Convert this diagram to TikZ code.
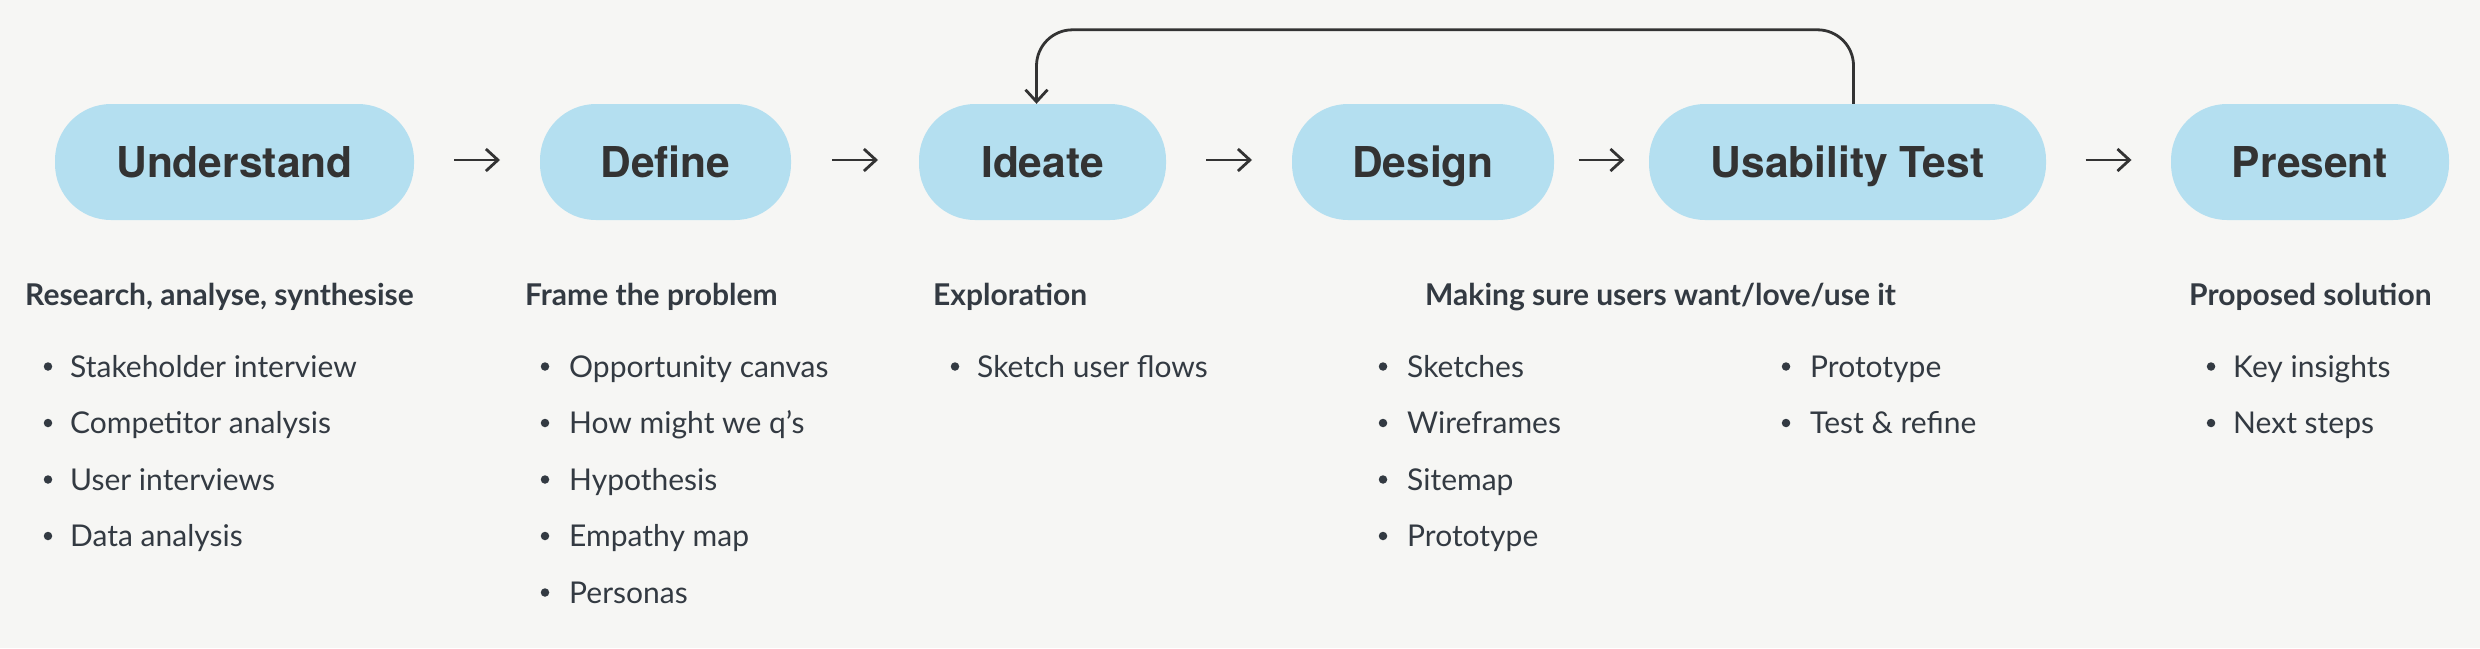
\documentclass[tikz,border=0pt]{standalone}
\usepackage{fontspec}
\setmainfont{Lato}
\newfontfamily\pillfont{TeX Gyre Heros}
\usetikzlibrary{arrows.meta,calc}
\definecolor{bg}{HTML}{F6F6F4}
\definecolor{pillfill}{HTML}{B4DFF0}
\definecolor{pilltext}{HTML}{333333}
\definecolor{bodytext}{HTML}{333A42}
\definecolor{arrowcol}{HTML}{333333}
\tikzset{
  pill/.style={rectangle, rounded corners=56pt, fill=pillfill, text=pilltext,
    minimum height=116pt, inner sep=0pt, text height=31pt, text depth=0pt,
    font=\fontsize{42.5}{50}\pillfont\bfseries},
  flow/.style={draw=arrowcol, line width=2.8pt,
    -{Straight Barb[length=12pt,width=22pt,line width=2.8pt]}},
  heading/.style={anchor=base west, inner sep=0pt, text=bodytext,
    font=\fontsize{30}{34}\selectfont\bfseries},
  item/.style={anchor=base west, inner sep=0pt, text=bodytext,
    font=\fontsize{30}{34}\selectfont},
  dot/.style={circle, fill=bodytext, minimum size=8.5pt, inner sep=0pt}
}
\begin{document}
\begin{tikzpicture}[x=1pt,y=-1pt]
\fill[bg] (0,0) rectangle (2480,648);
\useasboundingbox (0,0) rectangle (2480,648);

% pills
\node[pill, minimum width=359pt] (u)  at (234.5,162) {Understand};
\node[pill, minimum width=251pt] (d)  at (665.5,162) {Define};
\node[pill, minimum width=247pt] (i)  at (1042.5,162) {Ideate};
\node[pill, minimum width=262pt] (de) at (1423,162) {Design};
\node[pill, minimum width=397pt] (ut) at (1847.5,162) {Usability Test};
\node[pill, minimum width=278pt] (p)  at (2310,162) {Present};

% forward arrows
\foreach \a/\b in {u/d, d/i, i/de, de/ut, ut/p}{
  \draw[flow] ($(\a.east)!.5!(\b.west)+(-23,-2)$) -- ($(\a.east)!.5!(\b.west)+(23,-2)$);
}

% feedback loop
\draw[flow, rounded corners=36pt] ([xshift=6pt]ut.north) -- ++(0,-74) -| ([xshift=-6pt]i.north);

% Understand column
\node[heading] (h1) at (25,305) {Research, analyse, synthesise};
\foreach \t [count=\k] in {Stakeholder interview, Competitor analysis, User interviews, Data analysis}{
  \node[dot] (b1\k) at (48,{377+56.5*(\k-1)-10.5}) {};
  \node[item] (t1\k) at (70,{377+56.5*(\k-1)}) {\t};
}

% Define column
\node[heading] (h2) at (525,305) {Frame the problem};
\foreach \t [count=\k] in {Opportunity canvas, How might we q’s, Hypothesis, Empathy map, Personas}{
  \node[dot] (b2\k) at (545,{377+56.5*(\k-1)-10.5}) {};
  \node[item] (t2\k) at (569,{377+56.5*(\k-1)}) {\t};
}

% Ideate column
\node[heading] (h3) at (933,305) {Exploration};
\node[dot] (b31) at (955,366.5) {};
\node[item] (t31) at (977,377) {Sketch user flows};

% Design / Usability column
\node[heading] (h4) at (1425,305) {Making sure users want/love/use it};
\foreach \t [count=\k] in {Sketches, Wireframes, Sitemap, Prototype}{
  \node[dot] (b4\k) at (1383,{377+56.5*(\k-1)-10.5}) {};
  \node[item] (t4\k) at (1407,{377+56.5*(\k-1)}) {\t};
}
\foreach \t [count=\k] in {Prototype, Test \& refine}{
  \node[dot] (b5\k) at (1786,{377+56.5*(\k-1)-10.5}) {};
  \node[item] (t5\k) at (1810,{377+56.5*(\k-1)}) {\t};
}

% Present column
\node[heading] (h6) at (2189,305) {Proposed solution};
\foreach \t [count=\k] in {Key insights, Next steps}{
  \node[dot] (b6\k) at (2211,{377+56.5*(\k-1)-10.5}) {};
  \node[item] (t6\k) at (2233,{377+56.5*(\k-1)}) {\t};
}
\end{tikzpicture}
\end{document}
